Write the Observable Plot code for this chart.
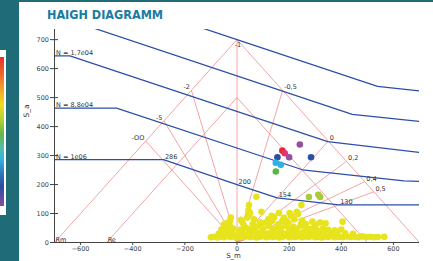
<!DOCTYPE html>
<html><head><meta charset="utf-8">
<script src="https://cdn.jsdelivr.net/npm/d3@7"></script>
<script src="https://cdn.jsdelivr.net/npm/@observablehq/plot@0.6"></script>
<style>
html,body{margin:0;padding:0;}
body{width:433px;height:261px;background:#1f6b77;position:relative;overflow:hidden;font-family:"DejaVu Sans",sans-serif;}
#legend{position:absolute;left:0;top:50px;width:6px;height:165px;background:#fff;}
#legend .bar{position:absolute;left:0;top:7px;width:4px;height:149px;
 background:linear-gradient(to bottom,#e8302c 0%,#ef6a2d 12%,#f4a52b 22%,#eedd20 32%,#b3d236 42%,#5eb84a 52%,#58bfa0 60%,#34b6e2 68%,#2c78c4 78%,#2b4ba3 87%,#8a4c9e 100%);}
#panel{position:absolute;left:19px;top:2px;width:414px;height:259px;background:#fff;}
#title{position:absolute;left:28px;top:6.3px;font:bold 12.5px/13px "DejaVu Sans Condensed","DejaVu Sans",sans-serif;color:#1a7ca3;letter-spacing:0;white-space:nowrap;}
#chart{position:absolute;left:0;top:0;}
</style></head>
<body>
<div id="legend"><div class="bar"></div></div>
<div id="panel"><div id="title">HAIGH DIAGRAMM</div><div id="chart"></div></div>
<script>
// axes
const xDomain = [-700, 700];
const yDomain = [0, 735];
const xTicks = [-600, -400, -200, 0, 200, 400, 600];
const yTicks = [0, 100, 200, 300, 400, 500, 600, 700];

// material limits
const limitNames = ["Rm", "Re"];
const limitValues = [700, 500];

// R-ratio rays (end points on the Rm limit lines)
const rayLabels = ["-OO", "-5", "-2", "-1", "-0,5", "0", "0,2", "0,4", "0,5"];
const raySm = [-350, -280, -175, 0, 175, 350, 420, 490, 525];
const raySa = [350, 420, 525, 700, 525, 350, 280, 210, 175];
const raySide = ["left", "left", "left", "top", "right", "right", "right", "right", "right"];

// constant-life lines
const lineNames = ["", "", "N = 1,7e04", "N = 8,8e04", "N = 1e06"];
const line0Sm = [-250, 0, 539, 700];
const line0Sa = [775, 700, 539, 523];
const line1Sm = [-600, 442, 700];
const line1Sa = [755, 442, 418];
const line2Sm = [-700, -641, 348, 700];
const line2Sa = [644, 644, 348, 311];
const line3Sm = [-700, -462, 251, 640, 700];
const line3Sa = [464, 464, 251, 213, 211];
const line4Sm = [-700, -282, 0, 154, 390, 700];
const line4Sa = [286, 286, 200, 154, 130, 130];

// marked values on N = 1e06 line
const markText = ["286", "200", "154", "130"];
const markSm = [-282, 0, 154, 390];
const markSa = [286, 200, 154, 130];

// load cycles (yellow cloud)
const yellowPts = [
 [-100,18],[-88,20],[-75,17],[-62,21],[-50,18],[-38,22],[-25,19],[-12,21],[0,17],[12,20],[25,18],[38,22],[50,19],[62,21],[75,17],[88,20],[100,22],[112,18],[125,21],[138,19],[150,22],[162,17],[175,20],[188,23],[200,18],[212,21],[225,19],[238,22],[250,18],[262,21],[275,19],[288,22],[300,18],[312,20],[325,17],[338,21],[350,19],[362,22],[375,18],[390,20],[405,18],[420,21],[435,19],[450,20],[465,18],[480,21],[495,19],[510,20],[525,18],[540,19],[565,20],
 [-70,30],[-55,34],[-40,30],[-20,36],[5,32],[20,38],[45,30],[60,36],[80,32],[95,38],[115,30],[130,35],[150,31],[170,37],[185,30],[200,34],[220,38],[240,31],[255,36],[275,30],[295,34],[315,38],[335,30],[360,33],[385,30],[415,32],[445,30],
 [-60,45],[-45,52],[-35,46],[-28,58],[-15,48],[10,44],[27,58],[35,50],[55,46],[70,52],[88,60],[100,48],[123,58],[140,46],[155,52],[168,52],[187,58],[200,47],[215,55],[230,48],[245,58],[265,50],[283,46],[300,55],[309,40],[330,48],[350,44],[375,42],[400,45],
 [-50,62],[-31,69],[-27,75],[-24,86],[-40,66],[21,69],[15,78],[40,86],[44,110],[50,102],[46,96],[65,80],[88,70],[94,106],[110,69],[120,80],[133,92],[136,75],[142,86],[161,102],[174,75],[180,85],[195,70],[202,102],[207,92],[229,106],[234,98],[245,64],[264,64],[289,72],[319,69],[340,66],[405,72],[220,80],[250,76],[300,62],[160,64],[60,64],[75,55],
 [74,158],[46,129],[247,129]
];

// highlighted load cycles (level index into the colour bar)
const colorSm = [174, 183, 200, 241, 155, 284, 149, 168, 149, 276, 312, 319];
const colorSa = [317, 308, 294, 338, 294, 294, 275, 268, 245, 157, 165, 157];
const colorLevel = ["L1", "L2", "L3", "L3", "L4", "L4", "L5", "L5", "L6", "L7", "L7", "L7"];
const levelNames = ["L1", "L2", "L3", "L4", "L5", "L6", "L7", "L8"];
const levelColors = ["#e62b2f", "#e2336c", "#94509f", "#2b4fa6", "#2eb0e6", "#5ab547", "#a9cb3a", "#e7e31c"];

// build tables
const limitTri = limitNames.flatMap((n, i) => [
  {id: n, sm: -limitValues[i], sa: 0},
  {id: n, sm: 0, sa: limitValues[i]},
  {id: n, sm: limitValues[i], sa: 0}
]);
const limitLbl = limitNames.map((n, i) => ({text: n, sm: -limitValues[i], sa: 0}));
const rays = rayLabels.map((t, i) => ({text: t, sm: raySm[i], sa: raySa[i], side: raySide[i]}));
const lineSms = [line0Sm, line1Sm, line2Sm, line3Sm, line4Sm];
const lineSas = [line0Sa, line1Sa, line2Sa, line3Sa, line4Sa];
const blue = lineSms.flatMap((xs, k) => xs.map((x, i) => ({id: k, sm: x, sa: lineSas[k][i]})));
const nLbl = lineNames.map((t, k) => ({text: t, sm: lineSms[k][0], sa: lineSas[k][0]})).filter(d => d.text);
const marks = markText.map((t, i) => ({text: t, sm: markSm[i], sa: markSa[i]}));
const yellow = yellowPts.map(([sm, sa]) => ({sm, sa, level: "L8"}));
const colored = colorSm.map((x, i) => ({sm: x, sa: colorSa[i], level: colorLevel[i]}));

const red = "#f08585";
const txt = {fill: "#333", fontSize: 6.5, lineAnchor: "bottom"};

const chart = Plot.plot({
  width: 414, height: 259,
  marginLeft: 35, marginRight: 14, marginTop: 27, marginBottom: 19,
  style: {fontFamily: "DejaVu Sans", fontSize: "6.5px", color: "#444", background: "transparent"},
  x: {domain: xDomain},
  y: {domain: yDomain},
  color: {type: "ordinal", domain: levelNames, range: levelColors},
  marks: [
    Plot.line(limitTri, {x: "sm", y: "sa", z: "id", stroke: red, strokeWidth: 0.75, clip: true}),
    Plot.link(rays, {x1: 0, y1: 0, x2: "sm", y2: "sa", stroke: red, strokeWidth: 0.75}),
    Plot.line(blue, {x: "sm", y: "sa", z: "id", stroke: "#2c4fa6", strokeWidth: 1.25, clip: true}),
    Plot.dot(yellow, {x: "sm", y: "sa", r: 3.3, fill: "level"}),
    Plot.dot(colored, {x: "sm", y: "sa", r: 3.3, fill: "level"}),
    Plot.ruleY([0], {stroke: "#444"}),
    Plot.ruleX([xDomain[0]], {stroke: "#444"}),
    Plot.axisX(xTicks, {tickSize: 3, tickPadding: 0.5, label: null}),
    Plot.axisY(yTicks, {tickSize: 4, tickPadding: 1.5, label: null}),
    Plot.axisY(yTicks, {tickSize: 4, dx: 4, tickFormat: () => null, label: null}),
    Plot.text(nLbl, {x: "sm", y: "sa", text: "text", textAnchor: "start", dx: 1.5, dy: -1, ...txt}),
    Plot.text(marks, {x: "sm", y: "sa", text: "text", textAnchor: "start", dx: 1.5, dy: -0.5, ...txt}),
    Plot.text(rays.filter(d => d.side === "right"), {x: "sm", y: "sa", text: "text", textAnchor: "start", dx: 1.5, dy: -1, ...txt}),
    Plot.text(rays.filter(d => d.side === "left"), {x: "sm", y: "sa", text: "text", textAnchor: "end", dx: -1.5, dy: -1, ...txt}),
    Plot.text(rays.filter(d => d.side === "top"), {x: "sm", y: "sa", text: "text", textAnchor: "middle", dx: 1, dy: 7.5, ...txt}),
    Plot.text(limitLbl, {x: "sm", y: "sa", text: "text", textAnchor: "start", dx: 1, dy: -1, ...txt}),
    Plot.text(["S_a"], {frameAnchor: "left", rotate: -90, dx: -28, dy: -18.5, fontSize: 7.5, fill: "#333"}),
    Plot.text(["S_m"], {frameAnchor: "bottom", dx: -3.5, dy: 15.5, fontSize: 7, fill: "#333"})
  ]
});
document.getElementById("chart").appendChild(chart);
</script>
</body></html>
